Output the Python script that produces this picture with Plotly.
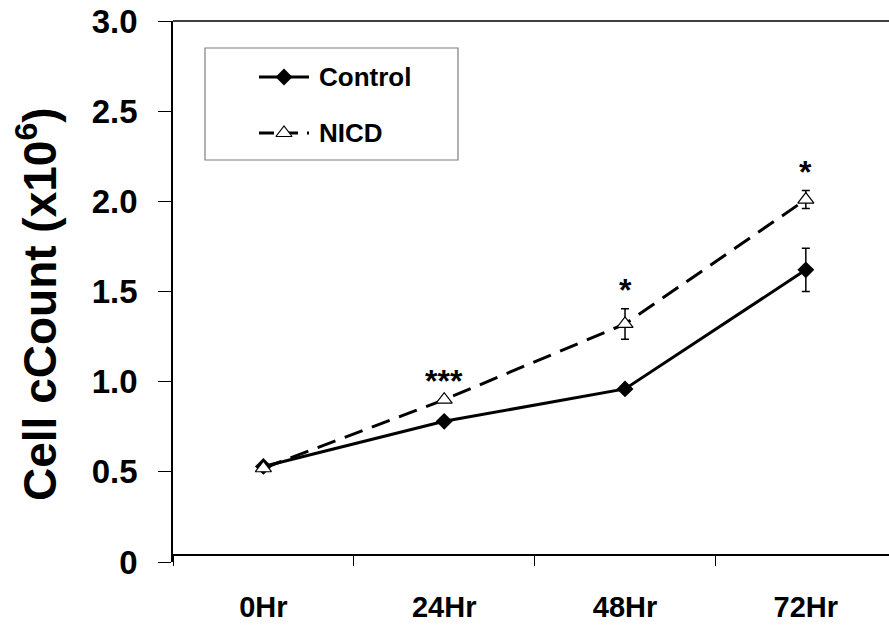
import plotly.graph_objects as go

# ---- data ----
categories = ["0Hr", "24Hr", "48Hr", "72Hr"]
control_mean = [0.53, 0.78, 0.96, 1.62]
control_err = [0.0, 0.0, 0.0, 0.12]
nicd_mean = [0.52, 0.90, 1.32, 2.01]
nicd_err = [0.0, 0.0, 0.085, 0.05]
sig_labels = ["", "***", "*", "*"]
y_tickvals = [0, 0.5, 1.0, 1.5, 2.0, 2.5, 3.0]
y_ticktext = ["0", "0.5", "1.0", "1.5", "2.0", "2.5", "3.0"]

FONT = "Liberation Sans, Arial, sans-serif"
W, H = 889, 627
L, R, T, B = 173, 0, 21, 65

fig = go.Figure()

fig.add_trace(go.Scatter(
    x=categories, y=control_mean, mode="lines+markers", name="Control",
    line=dict(color="black", width=3),
    marker=dict(symbol="diamond", size=13, color="black"),
    error_y=dict(type="data", array=control_err, visible=True, color="black",
                 thickness=1.5, width=4),
    showlegend=False,
))
fig.add_trace(go.Scatter(
    x=categories, y=nicd_mean, mode="lines+markers", name="NICD",
    line=dict(color="black", width=3, dash="19px,10px"),
    marker=dict(symbol="triangle-up", size=14, color="white",
                line=dict(color="black", width=1.2)),
    error_y=dict(type="data", array=nicd_err, visible=True, color="black",
                 thickness=1.5, width=4),
    showlegend=False,
))

# significance stars
for c, m, e, s in zip(categories, nicd_mean, nicd_err, sig_labels):
    if s:
        fig.add_annotation(x=c, y=m + e, text="<b>" + s + "</b>", showarrow=False,
                           yanchor="bottom", yshift=-1,
                           font=dict(family=FONT, size=32, color="black"))

# ---- manual legend on a pixel overlay axis ----
legend_names = ["Control", "NICD"]
fig.add_trace(go.Scatter(x=[259, 309], y=[77, 77], mode="lines",
                         line=dict(color="black", width=3),
                         xaxis="x2", yaxis="y2", showlegend=False, hoverinfo="skip"))
fig.add_trace(go.Scatter(x=[284], y=[77], mode="markers",
                         marker=dict(symbol="diamond", size=13, color="black"),
                         xaxis="x2", yaxis="y2", showlegend=False, hoverinfo="skip"))
fig.add_trace(go.Scatter(x=[259, 309], y=[133, 133], mode="lines",
                         line=dict(color="black", width=3, dash="15px,9px"),
                         xaxis="x2", yaxis="y2", showlegend=False, hoverinfo="skip"))
fig.add_trace(go.Scatter(x=[284], y=[133], mode="markers",
                         marker=dict(symbol="triangle-up", size=14, color="white",
                                     line=dict(color="black", width=1.2)),
                         xaxis="x2", yaxis="y2", showlegend=False, hoverinfo="skip"))
for name, yy in zip(legend_names, [77, 133]):
    fig.add_annotation(x=317, y=yy, xref="x2", yref="y2", text="<b>" + name + "</b>",
                       showarrow=False, xanchor="left", yanchor="middle",
                       font=dict(family=FONT, size=26, color="black"))
fig.add_shape(type="rect", x0=205, x1=458, y0=48, y1=160, xref="x2", yref="y2",
              line=dict(color="#7f7f7f", width=1.2), fillcolor="rgba(0,0,0,0)")

# top frame line
fig.add_shape(type="line", x0=0, x1=1, y0=1, y1=1, xref="paper", yref="paper",
              line=dict(color="black", width=1.5))

# y title
fig.add_annotation(x=(37 - L) / (W - L - R), y=(562 - 304) / (H - T - B),
                   xref="paper", yref="paper", text="<b>Cell cCount (x10<sup>6</sup>)</b>",
                   textangle=-90, showarrow=False, xanchor="center", yanchor="middle",
                   font=dict(family=FONT, size=46, color="black"))

fig.update_layout(
    width=W, height=H,
    margin=dict(l=L, r=R, t=T, b=B, pad=0, autoexpand=False),
    plot_bgcolor="white", paper_bgcolor="white",
    xaxis=dict(
        type="category", categoryorder="array", categoryarray=categories,
        range=[-0.5, 3.46], tickson="boundaries", ticks="outside", ticklen=10,
        tickwidth=1.2, tickcolor="black", showline=True, linecolor="black", linewidth=1.5,
        showgrid=False, zeroline=False, anchor="free", position=7 / (H - T - B),
        tickfont=dict(family=FONT, size=29, color="black", weight="bold"),
        ticklabelstandoff=26, automargin=False,
    ),
    yaxis=dict(
        range=[0, 3.0], tickvals=y_tickvals, ticktext=y_ticktext,
        ticks="outside", ticklen=13, tickwidth=1.2, tickcolor="black",
        showline=True, linecolor="black", linewidth=1.5, showgrid=False, zeroline=False,
        tickfont=dict(family=FONT, size=33, color="black", weight="bold"),
        ticklabelstandoff=14, automargin=False,
    ),
    xaxis2=dict(overlaying="x", range=[L, W - R], visible=False, anchor="y2"),
    yaxis2=dict(overlaying="y", range=[H - B, T], visible=False, anchor="x2"),
)

fig.write_html(
    "out.html",
    config={"displayModeBar": False},
    post_script="document.body.style.margin='0';document.body.style.overflow='hidden';",
)
